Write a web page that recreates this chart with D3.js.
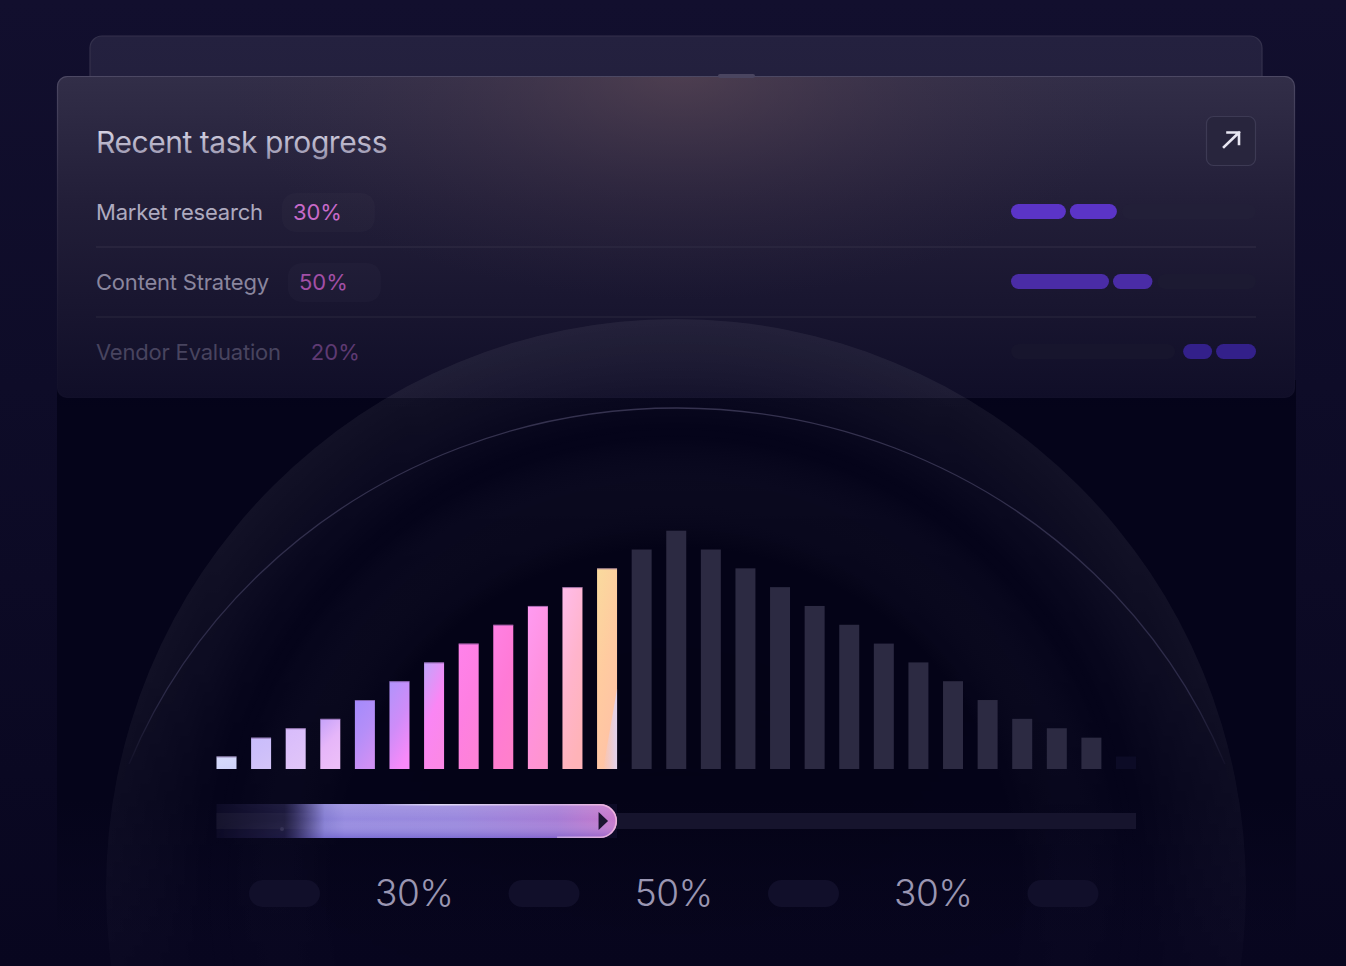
<!DOCTYPE html>
<html>
<head>
<meta charset="utf-8">
<script src="https://cdn.jsdelivr.net/npm/d3@7/dist/d3.min.js"></script>
<style>
  html, body { margin: 0; padding: 0; background: #0b0925; }
  svg { display: block; font-family: Inter, "Noto Sans", sans-serif; }
</style>
</head>
<body>
<svg id="chart" width="1346" height="966"></svg>
<script>
// ---------------- DATA ----------------
const title = "Recent task progress";
const taskNames = ["Market research", "Content Strategy", "Vendor Evaluation"];
const taskPercents = [30, 50, 20];
// progress pill segments (share of track, 0-100) and where they start
const taskSegments = [[22.4, 19.2], [40.0, 16.1], [11.8, 16.3]];
const taskAlign = ["start", "start", "end"];

const barValues = [2, 5, 6.5, 8, 11, 14, 17, 20, 23, 26, 29, 32, 35, 38,
                   35, 32, 29, 26, 23, 20, 17, 14, 11, 8, 6.5, 5, 2];
const activeBars = 12;               // slider position (bars highlighted)
const sliderLabels = ["30%", "50%", "30%"];

// palette for highlighted bars (top, middle, bottom)
const barPalette = [
  ["#d6dafc", "#d4d8fb", "#d0d4fa"],
  ["#c9bdfb", "#cdbffa", "#d2c3f8"],
  ["#d8bcfb", "#dcc0fa", "#e0c4f8"],
  ["#c8a4fa", "#e6b6f9", "#ecbef8"],
  ["#a58bfb", "#b58ef8", "#cf90f4"],
  ["#b393fb", "#cf8cf8", "#f88af9"],
  ["#c6a2fb", "#fa86f4", "#fb88e6"],
  ["#ff82ea", "#fe7fe2", "#fd82d8"],
  ["#ff80e2", "#ff7ad6", "#ff7fcc"],
  ["#ff9af0", "#ff92e0", "#ff94d0"],
  ["#ffbbe8", "#ffb4cc", "#ffb3b8"],
  ["#fad99e", "#ffcba0", "#ffc2a6"]
];

// ---------------- SVG ----------------
const W = 1346, H = 966;
const svg = d3.select("#chart");
const defs = svg.append("defs");

function addStops(g, stops) {
  stops.forEach(s => g.append("stop").attr("offset", s[0]).attr("stop-color", s[1])
    .attr("stop-opacity", s[2] === undefined ? 1 : s[2]));
  return g;
}
function linGrad(id, attrs, stops) {
  const g = defs.append("linearGradient").attr("id", id);
  Object.entries(attrs).forEach(([k, v]) => g.attr(k, v));
  return addStops(g, stops);
}
function radGrad(id, attrs, stops) {
  const g = defs.append("radialGradient").attr("id", id);
  Object.entries(attrs).forEach(([k, v]) => g.attr(k, v));
  return addStops(g, stops);
}

// background
linGrad("bgG", {x1: 0, y1: 0, x2: 0, y2: 1},
  [[0, "#120f2e"], [0.4, "#0e0c28"], [1, "#08061f"]]);
svg.append("rect").attr("width", W).attr("height", H).attr("fill", "url(#bgG)");

// dark panel behind the chart
linGrad("panelG", {x1: 0, y1: 0, x2: 0, y2: 1},
  [[0, "#05041a", 1], [0.75, "#05041a", 1], [1, "#05041a", 0]]);
svg.append("rect").attr("x", 57).attr("y", 380).attr("width", 1239).attr("height", 560)
  .attr("fill", "url(#panelG)");

// ---------------- CARDS ----------------
// back card
linGrad("backCardG", {x1: 0, y1: 0, x2: 0, y2: 1}, [[0, "#24213f"], [1, "#211e3b"]]);
svg.append("rect").attr("x", 90).attr("y", 36).attr("width", 1172).attr("height", 120)
  .attr("rx", 12).attr("fill", "url(#backCardG)").attr("stroke", "#34314c").attr("stroke-width", 1.2);

// soft shadow under front card
linGrad("shadowG", {x1: 0, y1: 0, x2: 0, y2: 1}, [[0, "#04031a", 0.5], [1, "#04031a", 0]]);
svg.append("rect").attr("x", 57).attr("y", 396).attr("width", 1238).attr("height", 16)
  .attr("fill", "url(#shadowG)");

linGrad("cardG", {gradientUnits: "userSpaceOnUse", x1: 0, y1: 76, x2: 0, y2: 398},
  [[0, "#322e48"], [0.4, "#221e38"], [1, "#100e28"]]);
svg.append("rect").attr("x", 57).attr("y", 76).attr("width", 1238).attr("height", 322)
  .attr("rx", 10).attr("fill", "url(#cardG)");

// warm glow on the card
radGrad("glowG", {}, [[0, "#614a56", 0.6], [0.5, "#4c3b4d", 0.28], [1, "#3a2f45", 0]]);
defs.append("clipPath").attr("id", "cardClip").append("rect")
  .attr("x", 57).attr("y", 76).attr("width", 1238).attr("height", 322).attr("rx", 10);
svg.append("ellipse").attr("cx", 680).attr("cy", 70).attr("rx", 460).attr("ry", 230)
  .attr("fill", "url(#glowG)").attr("clip-path", "url(#cardClip)");

// card border (fading downward)
linGrad("cardBorderG", {gradientUnits: "userSpaceOnUse", x1: 0, y1: 76, x2: 0, y2: 398},
  [[0, "#4c4863"], [0.35, "#2f2b45"], [1, "#15132c", 0.3]]);
svg.append("rect").attr("x", 57.5).attr("y", 76.5).attr("width", 1237).attr("height", 321)
  .attr("rx", 10).attr("fill", "none").attr("stroke", "url(#cardBorderG)").attr("stroke-width", 1.2);
// little tab on top edge
svg.append("rect").attr("x", 718).attr("y", 74).attr("width", 37).attr("height", 4).attr("rx", 2)
  .attr("fill", "#4a4560");

// ---------------- ARCH (drawn over card, translucent) ----------------
radGrad("archG", {gradientUnits: "userSpaceOnUse", cx: 676, cy: 889, r: 570},
  [[0, "#000000", 0.22], [0.6, "#000000", 0.1], [0.8, "#ffffff", 0.0], [0.9, "#ffffff", 0.035], [1, "#ffffff", 0.06]]);
linGrad("archFade", {gradientUnits: "userSpaceOnUse", x1: 0, y1: 319, x2: 0, y2: 966},
  [[0, "#fff", 1], [0.55, "#fff", 0.85], [1, "#fff", 0.25]]);
defs.append("mask").attr("id", "archMask").append("rect")
  .attr("x", 0).attr("y", 300).attr("width", W).attr("height", 666).attr("fill", "url(#archFade)");
svg.append("circle").attr("cx", 676).attr("cy", 889).attr("r", 570)
  .attr("fill", "url(#archG)").attr("mask", "url(#archMask)");

// inner arc line
defs.append("clipPath").attr("id", "arcClip").append("rect")
  .attr("x", 0).attr("y", 0).attr("width", W).attr("height", 764);
linGrad("arcLineG", {gradientUnits: "userSpaceOnUse", x1: 0, y1: 408, x2: 0, y2: 764},
  [[0, "#35324f"], [0.8, "#2c2a48"], [1, "#2c2a48", 0.2]]);
svg.append("ellipse").attr("cx", 677).attr("cy", 974).attr("rx", 590).attr("ry", 566)
  .attr("fill", "none").attr("stroke", "url(#arcLineG)").attr("stroke-width", 1.3)
  .attr("clip-path", "url(#arcClip)");

// title
linGrad("titleG", {x1: 0, y1: 0, x2: 0, y2: 1}, [[0, "#e6e3f0"], [1, "#928ea8"]]);
svg.append("text").attr("x", 96).attr("y", 153).attr("font-size", 30)
  .attr("letter-spacing", -0.45).attr("fill", "url(#titleG)").text(title);

// arrow button
svg.append("rect").attr("x", 1206.5).attr("y", 116.5).attr("width", 49).attr("height", 49)
  .attr("rx", 7).attr("fill", "#28253d").attr("stroke", "#3d3a54").attr("stroke-width", 1.2);
svg.append("path")
  .attr("d", "M1224,147 L1239,132.5 M1227.5,132.5 L1239,132.5 L1239,144")
  .attr("fill", "none").attr("stroke", "#e8e6f2").attr("stroke-width", 2.6)
  .attr("stroke-linecap", "square");

// ---------------- TASK ROWS ----------------
const rowY = d3.scalePoint().domain(d3.range(taskNames.length)).range([220, 360]);
const nameColors = ["#aeaabf", "#8a869e", "#48445f"];
const pctColors = ["#c86ac9", "#a24fa6", "#5e3a72"];
const pillColors = ["#5b34c7", "#4a2ca6", "#33208a"];
const trackColors = ["#221f38", "#1c1a32", "#17152d"];
const track = d3.scaleLinear().domain([0, 100]).range([1011, 1256]);
const gap = 4;

// dividers
[0, 1].forEach(i => {
  svg.append("line").attr("x1", 96).attr("x2", 1256)
    .attr("y1", rowY(i) + 27).attr("y2", rowY(i) + 27)
    .attr("stroke", i === 0 ? "#2c2941" : "#25223a").attr("stroke-width", 1.5);
});

taskNames.forEach((name, i) => {
  const y = rowY(i);
  const g = svg.append("g");
  const t = g.append("text").attr("x", 96).attr("y", y).attr("font-size", 22)
    .attr("letter-spacing", -0.2).attr("fill", nameColors[i]).text(name);
  const w = t.node().getComputedTextLength();
  const px = 96 + w + 30;
  if (i < 2) {
    g.insert("rect", "text").attr("x", px - 11).attr("y", y - 27).attr("width", 93).attr("height", 39)
      .attr("rx", 14).attr("fill", "#ffffff").attr("fill-opacity", 0.02);
  }
  g.append("text").attr("x", px).attr("y", y).attr("font-size", 22)
    .attr("fill", pctColors[i]).text(taskPercents[i] + "%");

  // track + pills
  const segs = taskSegments[i];
  const total = d3.sum(segs);
  const ph = 15, py = y - 16;
  let starts = [];
  if (taskAlign[i] === "start") {
    let acc = 0;
    segs.forEach(s => { starts.push(acc); acc += s; });
    const filledEnd = track(total) + gap * (segs.length - 1);
    g.append("rect").attr("x", filledEnd + 5).attr("y", py).attr("width", track(100) - filledEnd - 5)
      .attr("height", ph).attr("rx", ph / 2).attr("fill", trackColors[i]);
  } else {
    let acc = 100 - total;
    segs.forEach(s => { starts.push(acc); acc += s; });
    g.append("rect").attr("x", track(0)).attr("y", py)
      .attr("width", track(100 - total) - track(0) - gap * segs.length - 4)
      .attr("height", ph).attr("rx", ph / 2).attr("fill", trackColors[i]);
  }
  segs.forEach((s, k) => {
    const off = taskAlign[i] === "start" ? k * gap : -(segs.length - 1 - k) * gap;
    const x0 = track(starts[k]) + off;
    g.append("rect").attr("x", x0).attr("y", py)
      .attr("width", track(starts[k] + s) - track(starts[k]))
      .attr("height", ph).attr("rx", ph / 2).attr("fill", pillColors[i]);
  });
});

// ---------------- BAR CHART ----------------
const x = d3.scaleBand().domain(d3.range(barValues.length))
  .range([216.5, 1136]).paddingInner(0.422).paddingOuter(0);
const y = d3.scaleLinear().domain([0, 38]).range([769, 530.7]);

barPalette.forEach((c, i) => {
  linGrad("bar" + i, {x1: 0.15, y1: 0, x2: 0.55, y2: 1},
    [[0, c[0]], [0.5, c[1]], [1, c[2]]]);
});

const bars = svg.append("g");
bars.selectAll("rect").data(barValues).join("rect")
  .attr("x", (d, i) => x(i))
  .attr("y", d => y(d))
  .attr("width", x.bandwidth())
  .attr("height", d => y(0) - y(d))
  .attr("fill", (d, i) => i < activeBars ? `url(#bar${i})` : (i === barValues.length - 1 ? "#0c0b26" : "#2c2a42"));

// small lavender flare at the bottom of the last active bar
linGrad("flareG", {x1: 0, y1: 0, x2: 1, y2: 0}, [[0, "#d9d2fa", 0], [1, "#dcd6fb", 1]]);
{
  const i = activeBars - 1, bx = x(i), bw = x.bandwidth(), by = y(0);
  svg.append("path")
    .attr("d", `M${bx + bw},${by - 80} L${bx + bw},${by} L${bx + 6},${by} Z`)
    .attr("fill", "url(#flareG)").attr("opacity", 0.85);
}
// thin top edge on active bars
bars.selectAll("line").data(barValues.slice(0, activeBars)).join("line")
  .attr("x1", (d, i) => x(i)).attr("x2", (d, i) => x(i) + x.bandwidth())
  .attr("y1", d => y(d) + 0.5).attr("y2", d => y(d) + 0.5)
  .attr("stroke", "#6a4a86").attr("stroke-opacity", 0.6).attr("stroke-width", 1);

// ---------------- SLIDER ----------------
const sx0 = x(0), sx1 = x(barValues.length - 1) + x.bandwidth();
const handleX = x(activeBars - 1) + x.bandwidth();
const sTop = 804, sH = 34, r = sH / 2;

svg.append("rect").attr("x", sx0).attr("y", sTop).attr("width", handleX - sx0).attr("height", sH)
  .attr("fill", "#0d0b26");
svg.append("rect").attr("x", sx0).attr("y", 813).attr("width", sx1 - sx0).attr("height", 16)
  .attr("fill", "#16142d");
svg.append("circle").attr("cx", 282).attr("cy", 829).attr("r", 2).attr("fill", "#2a2842");

linGrad("sliderG", {gradientUnits: "userSpaceOnUse", x1: sx0, y1: 0, x2: handleX, y2: 0},
  [[0, "#6a62b8", 0], [0.17, "#6a62b8", 0.15], [0.27, "#8c84dc", 0.95], [0.32, "#968ae0", 1],
   [0.6, "#9a88de", 1], [0.85, "#a67cd6", 1], [1, "#c878cc", 1]]);
linGrad("sliderV", {x1: 0, y1: 0, x2: 0, y2: 1},
  [[0, "#ffffff", 0.14], [0.45, "#ffffff", 0], [1, "#4a3cc0", 0.35]]);
linGrad("sliderFadeMask", {gradientUnits: "userSpaceOnUse", x1: sx0, y1: 0, x2: handleX, y2: 0},
  [[0, "#fff", 0], [0.2, "#fff", 0.2], [0.3, "#fff", 1], [1, "#fff", 1]]);
defs.append("mask").attr("id", "sliderMask").append("rect")
  .attr("x", sx0).attr("y", sTop - 2).attr("width", handleX - sx0 + 2).attr("height", sH + 4)
  .attr("fill", "url(#sliderFadeMask)");

const fillPath = `M${sx0},${sTop} L${handleX - r},${sTop} A${r},${r} 0 0 1 ${handleX - r},${sTop + sH} L${sx0},${sTop + sH} Z`;
svg.append("path").attr("d", fillPath).attr("fill", "url(#sliderG)");
svg.append("path").attr("d", fillPath).attr("fill", "url(#sliderV)").attr("mask", "url(#sliderMask)");
// highlight edges
linGrad("edgeG", {gradientUnits: "userSpaceOnUse", x1: sx0, y1: 0, x2: handleX, y2: 0},
  [[0, "#ffffff", 0], [0.4, "#ffffff", 0], [0.55, "#f2eefc", 0.75], [0.85, "#f4d8f0", 0.5], [1, "#f0b8dc", 0.9]]);
svg.append("path")
  .attr("d", `M${sx0},${sTop + 0.8} L${handleX - r},${sTop + 0.8} A${r - 0.8},${r - 0.8} 0 0 1 ${handleX - r},${sTop + sH - 0.8} L${handleX - 60},${sTop + sH - 0.8}`)
  .attr("fill", "none").attr("stroke", "url(#edgeG)").attr("stroke-width", 1.6);
// play triangle
svg.append("path")
  .attr("d", `M${handleX - 18.5},${sTop + 8} L${handleX - 9},${sTop + sH / 2} L${handleX - 18.5},${sTop + sH - 8} Z`)
  .attr("fill", "#1b1430");

// ---------------- BOTTOM LABELS ----------------
const slots = d3.scalePoint().domain(d3.range(sliderLabels.length * 2 + 1)).range([284.5, 1063]);
d3.range(sliderLabels.length + 1).forEach(k => {
  svg.append("rect").attr("x", slots(k * 2) - 35.5).attr("y", 880).attr("width", 71).attr("height", 27)
    .attr("rx", 13.5).attr("fill", "#110f2a");
});
sliderLabels.forEach((lab, k) => {
  svg.append("text").attr("x", slots(k * 2 + 1)).attr("y", 906).attr("text-anchor", "middle")
    .attr("font-size", 37).attr("font-weight", 300).attr("letter-spacing", -0.5)
    .attr("fill", "#9a96b2").text(lab);
});
</script>
</body>
</html>
